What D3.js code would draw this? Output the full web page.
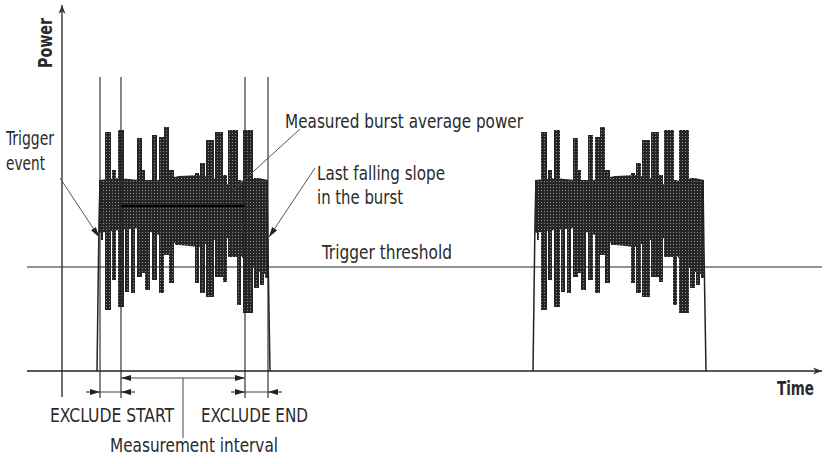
<!DOCTYPE html>
<html>
<head>
<meta charset="utf-8">
<script src="https://cdnjs.cloudflare.com/ajax/libs/d3/7.8.5/d3.min.js"></script>
<style>
body { margin: 0; background: #fff; }
text { font-family: "Liberation Sans Narrow", "DejaVu Sans Condensed", sans-serif; font-stretch: condensed; fill: #2a2a2a; font-size: 20px; }
</style>
</head>
<body>
<script>
var w = 826;
var h = 464;

// time and power in arbitrary units (power 0 = baseline)
var burstStarts = [37, 473];
var thresholdPower = 104;
var averagePower = 165;
var averageFrom = 59, averageTo = 183;
var markerTimes = [38, 59, 183, 206];

// burst envelope: offset from burst start, top, bottom
var bodyOffsets = [0, 20, 40, 60, 80, 100, 115, 130, 145, 160, 169];
var bodyTop     = [191, 193, 191, 191, 195, 196, 193, 186, 191, 193, 191];
var bodyBottom  = [138, 141, 143, 136, 126, 124, 131, 133, 111, 99, 96];

// spikes inside the burst: offset, duration, peak, dip
var spikeOffsets = [2, 6, 13, 19, 26, 32, 38, 43, 46, 53, 60, 65, 70, 76, 96, 101, 107, 116, 124, 129, 138, 144, 155, 161, 166];
var spikeDur     = [2, 6, 4, 6, 4, 4, 5, 3, 5, 5, 5, 5, 5, 4, 4, 5, 8, 8, 4, 10, 4, 10, 5, 4, 3];
var spikePeak    = [186, 239, 201, 241, 186, 186, 233, 201, 191, 236, 234, 244, 201, 181, 198, 208, 231, 239, 196, 241, 191, 241, 193, 191, 189];
var spikeDip     = [131, 61, 91, 64, 79, 78, 94, 98, 81, 91, 78, 116, 88, 126, 88, 78, 74, 94, 89, 114, 66, 58, 83, 86, 93];

// rising and falling edges of a burst
var riseEdge = [[-2, 0], [0, 150], [1, 191]];
var fallEdge = [[168, 191], [169, 120], [171, 0]];

var x = d3.scaleLinear().domain([0, 760]).range([62, 822]);
var y = d3.scaleLinear().domain([0, 366]).range([371, 5]);

var svg = d3.select("body").append("svg")
            .attr("width", w)
            .attr("height", h);

var defs = svg.append("defs");
defs.append("marker")
    .attr("id", "head")
    .attr("viewBox", "0 0 10 6")
    .attr("refX", 10).attr("refY", 3)
    .attr("markerWidth", 10).attr("markerHeight", 6)
    .attr("markerUnits", "userSpaceOnUse")
    .attr("orient", "auto-start-reverse")
    .append("path").attr("d", "M0,0 L10,3 L0,6 Z").attr("fill", "#222");
defs.append("marker")
    .attr("id", "axisHead")
    .attr("viewBox", "0 0 10 10")
    .attr("refX", 10).attr("refY", 5)
    .attr("markerWidth", 11).attr("markerHeight", 9)
    .attr("markerUnits", "userSpaceOnUse")
    .attr("orient", "auto")
    .append("path").attr("d", "M0,1 L10,5 L0,9 L3,5 Z").attr("fill", "#333");

// halftone look of the scanned trace
var dots = defs.append("pattern")
    .attr("id", "halftone")
    .attr("width", 3).attr("height", 3)
    .attr("patternUnits", "userSpaceOnUse");
dots.append("rect").attr("width", 3).attr("height", 3).attr("fill", "#262626");
dots.append("rect").attr("x", 1).attr("y", 1).attr("width", 1).attr("height", 1).attr("fill", "#8a8a8a");

// threshold
svg.append("line")
   .attr("x1", x(-35)).attr("x2", x(760))
   .attr("y1", y(thresholdPower)).attr("y2", y(thresholdPower))
   .attr("stroke", "#6e6e6e").attr("stroke-width", 1.5);

// bursts
var area = d3.area()
             .x(function(d) { return d.x; })
             .y0(function(d) { return d.y0; })
             .y1(function(d) { return d.y1; });
var edge = d3.line();

burstStarts.forEach(function(s)
{
	var g = svg.append("g").attr("class", "burst");
	var pts = bodyOffsets.map(function(o, i)
	{
		return { x: x(s + o), y0: y(bodyBottom[i]), y1: y(bodyTop[i]) };
	});
	g.append("path").attr("d", area(pts)).attr("fill", "url(#halftone)");

	g.selectAll("rect")
	 .data(spikeOffsets).enter()
	 .append("rect")
	 .attr("x", function(o) { return x(s + o); })
	 .attr("width", function(o, i) { return x(s + o + spikeDur[i]) - x(s + o); })
	 .attr("y", function(o, i) { return y(spikePeak[i]); })
	 .attr("height", function(o, i) { return y(spikeDip[i]) - y(spikePeak[i]); })
	 .attr("fill", "url(#halftone)");

	g.append("path")
	 .attr("d", edge(riseEdge.map(function(d) { return [x(s + d[0]), y(d[1])]; })))
	 .attr("fill", "none").attr("stroke", "#222").attr("stroke-width", 1.5);
	g.append("path")
	 .attr("d", edge(fallEdge.map(function(d) { return [x(s + d[0]), y(d[1])]; })))
	 .attr("fill", "none").attr("stroke", "#222").attr("stroke-width", 1.5);
});

// average power
svg.append("line")
   .attr("x1", x(averageFrom)).attr("x2", x(averageTo))
   .attr("y1", y(averagePower)).attr("y2", y(averagePower))
   .attr("stroke", "#000").attr("stroke-width", 2);

// marker lines
svg.selectAll("line.marker")
   .data(markerTimes).enter()
   .append("line")
   .attr("class", "marker")
   .attr("x1", function(d) { return x(d); }).attr("x2", function(d) { return x(d); })
   .attr("y1", y(294)).attr("y2", y(-27))
   .attr("stroke", "#222").attr("stroke-width", 1.1);

// axes
svg.append("line")
   .attr("x1", x(-35)).attr("x2", x(760))
   .attr("y1", y(0)).attr("y2", y(0))
   .attr("stroke", "#222").attr("stroke-width", 1.3)
   .attr("marker-end", "url(#axisHead)");
svg.append("line")
   .attr("x1", x(0)).attr("x2", x(0))
   .attr("y1", y(-26)).attr("y2", y(366))
   .attr("stroke", "#222").attr("stroke-width", 1.3)
   .attr("marker-end", "url(#axisHead)");

// label helper: text squeezed to the width it has in the figure
function label(tx, ty, str, len)
{
	return svg.append("text")
	          .attr("x", tx).attr("y", ty)
	          .attr("textLength", len)
	          .attr("lengthAdjust", "spacingAndGlyphs")
	          .text(str);
}

svg.append("text")
   .attr("transform", "translate(52,43) rotate(-90)")
   .attr("text-anchor", "middle")
   .attr("textLength", 50)
   .attr("lengthAdjust", "spacingAndGlyphs")
   .style("font-weight", "bold")
   .text("Power");
label(777, 395, "Time", 37).style("font-weight", "bold").style("font-size", "19px");

// leaders
function leader(x1, y1, x2, y2, arrow)
{
	var l = svg.append("line")
	           .attr("x1", x1).attr("y1", y1).attr("x2", x2).attr("y2", y2)
	           .attr("stroke", "#555").attr("stroke-width", 1);
	if(arrow)
		l.attr("marker-end", "url(#head)");
	return l;
}

leader(60, 178, x(markerTimes[0]) - 1, y(134), true);
leader(315, 168, x(markerTimes[3]) + 1, y(134), true);
leader(300, 129, x(170), y(180), false);

label(6, 145, "Trigger", 48);
label(6, 170, "event", 39);
label(285, 128, "Measured burst average power", 238);
label(317, 180, "Last falling slope", 128);
label(317, 204, "in the burst", 86);
label(322, 259, "Trigger threshold", 130);

// interval arrows
var yMeas = y(-7), yExcl = y(-21);
svg.append("line")
   .attr("x1", x(markerTimes[1])).attr("x2", x(markerTimes[2]))
   .attr("y1", yMeas).attr("y2", yMeas)
   .attr("stroke", "#444").attr("stroke-width", 1)
   .attr("marker-start", "url(#head)").attr("marker-end", "url(#head)");
svg.append("line")
   .attr("x1", x(121)).attr("x2", x(121))
   .attr("y1", yMeas).attr("y2", 438)
   .attr("stroke", "#444").attr("stroke-width", 1);

[[markerTimes[0], markerTimes[1]], [markerTimes[2], markerTimes[3]]].forEach(function(p)
{
	svg.append("line")
	   .attr("x1", x(p[0])).attr("x2", x(p[1]))
	   .attr("y1", yExcl).attr("y2", yExcl)
	   .attr("stroke", "#444").attr("stroke-width", 1);
	svg.append("line")
	   .attr("x1", x(p[0]) - 14).attr("x2", x(p[0]))
	   .attr("y1", yExcl).attr("y2", yExcl)
	   .attr("stroke", "#222").attr("stroke-width", 1)
	   .attr("marker-end", "url(#head)");
	svg.append("line")
	   .attr("x1", x(p[1]) + 14).attr("x2", x(p[1]))
	   .attr("y1", yExcl).attr("y2", yExcl)
	   .attr("stroke", "#222").attr("stroke-width", 1)
	   .attr("marker-end", "url(#head)");
});

label(50, 422, "EXCLUDE START", 124);
label(201, 422, "EXCLUDE END", 107);
label(110, 452, "Measurement interval", 168);
</script>
</body>
</html>
